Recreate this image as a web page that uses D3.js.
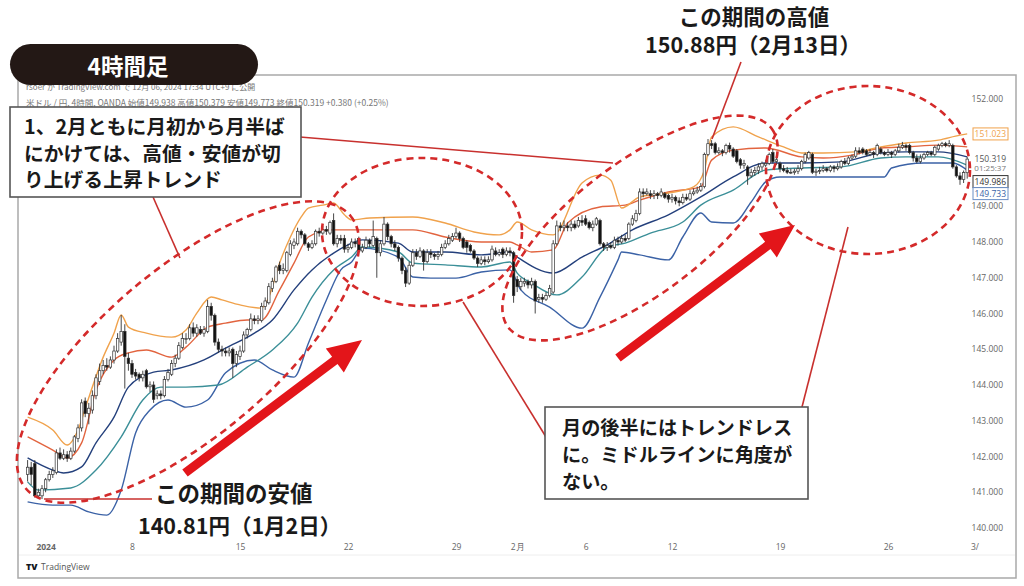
<!DOCTYPE html>
<html><head><meta charset="utf-8">
<script src="https://cdn.jsdelivr.net/npm/d3@7"></script>
<style>
html,body{margin:0;padding:0;background:#fff;}
svg{display:block;}
</style></head><body>
<svg id="chart" width="1024" height="586"></svg>
<script>
// ---- data: USD/JPY 4h candles (bar index 0..261) ----
const opens = [141.5,141.7,141.8,140.9,140.9,141.1,141.35,141.5,141.55,142.1,
141.95,142.05,141.95,142.15,142.5,142.8,143.55,143.2,143.3,143.7,
144.1,144.4,144.55,144.5,144.7,144.95,145.2,145.5,144.75,144.6,
144.35,144.3,144.2,144.4,143.95,144.0,143.7,143.75,143.7,144.15,
144.3,144.6,144.75,145.05,145.3,145.3,145.6,145.45,145.55,145.45,
145.5,146.2,145.95,145.2,145.0,144.95,144.9,145.0,144.6,144.8,
144.95,145.4,145.55,145.85,145.8,145.8,146.2,146.3,146.7,146.9,
147.35,147.2,147.2,147.65,147.9,147.95,148.3,148.2,147.95,147.85,
147.95,148.3,148.25,148.35,148.25,148.6,147.95,148.1,148.1,147.8,
147.85,148.0,148.1,147.75,147.85,148.05,147.9,148.1,147.7,147.95,
148.5,148.15,147.95,147.85,147.55,147.2,146.85,147.35,147.7,147.6,
147.75,147.45,147.7,147.65,147.6,147.65,147.85,147.95,148.05,148.15,
148.25,148.1,148.0,147.9,147.75,147.55,147.4,147.5,147.45,147.5,
147.75,147.65,147.8,147.65,147.75,147.7,146.95,146.75,146.85,146.9,
146.8,146.9,146.4,146.45,146.4,146.5,146.6,147.95,148.45,148.4,
148.45,148.4,148.5,148.45,148.6,148.65,148.55,148.4,148.5,148.6,
147.95,147.85,147.9,147.85,148.05,148.0,148.1,148.1,148.5,148.6,
148.8,149.4,149.35,149.35,149.3,149.35,149.3,149.35,149.3,149.2,
149.25,149.15,149.1,149.25,149.2,149.35,149.4,149.45,149.55,150.45,
150.75,150.75,150.5,150.55,150.5,150.7,150.6,150.55,150.3,150.15,
150.1,149.85,149.95,150.0,150.1,150.15,150.2,150.5,150.25,150.2,
150.05,150.0,149.95,149.95,149.98,150.05,150.25,150.35,150.45,149.95,
149.98,150.0,150.05,150.0,150.1,150.05,150.1,150.25,150.2,150.35,
150.4,150.55,150.6,150.55,150.45,150.5,150.45,150.6,150.5,150.45,
150.5,150.45,150.55,150.65,150.7,150.7,150.5,150.35,150.25,150.35,
150.45,150.5,150.45,150.6,150.7,150.75,150.7,150.7,150.1,149.85,
149.75,149.938];
const highs = [141.9,141.85,141.9,141.1,141.2,141.4,141.6,141.7,142.2,142.25,
142.2,142.15,142.25,142.6,142.9,143.6,143.65,143.5,143.85,144.3,
144.6,144.7,144.75,144.8,145.1,145.45,145.96,145.7,144.9,144.7,
144.45,144.35,144.4,144.45,144.1,144.1,143.85,143.85,144.25,144.45,
144.7,144.85,145.2,145.45,145.45,145.7,145.75,145.7,145.65,145.65,
146.38,146.3,146.0,145.3,145.1,145.05,145.05,145.05,144.95,145.1,
145.5,145.6,146.0,145.95,145.95,146.3,146.45,146.85,147.0,147.35,
147.45,147.4,147.75,148.05,148.1,148.4,148.35,148.25,148.0,148.05,
148.35,148.4,148.45,148.45,148.6,148.8,148.2,148.2,148.2,147.95,
148.1,148.1,148.15,147.95,148.15,148.1,148.6,148.15,148.05,148.7,
148.55,148.2,148.05,147.9,147.6,147.3,147.45,147.8,147.8,147.85,
147.8,147.8,147.8,147.7,147.75,147.95,148.05,148.2,148.25,148.4,
148.3,148.15,148.05,147.95,147.8,147.6,147.6,147.6,147.6,147.9,
147.85,147.8,147.85,147.85,147.85,147.75,147.05,147.0,147.0,146.95,
147.0,146.95,146.55,146.55,146.6,146.8,148.05,148.6,148.55,148.6,
148.55,148.6,148.6,148.7,148.75,148.75,148.6,148.6,148.7,148.65,
148.0,148.0,148.0,148.15,148.15,148.2,148.2,148.55,148.75,148.9,
149.5,149.5,149.5,149.45,149.45,149.4,149.5,149.4,149.35,149.35,
149.3,149.25,149.35,149.35,149.45,149.5,149.55,149.65,150.5,150.88,
150.85,150.8,150.65,150.6,150.75,150.78,150.65,150.6,150.35,150.3,
150.15,150.05,150.1,150.2,150.25,150.3,150.5,150.6,150.4,150.25,
150.15,150.1,150.05,150.05,150.15,150.3,150.5,150.55,150.5,150.05,
150.1,150.15,150.1,150.15,150.15,150.2,150.3,150.35,150.4,150.45,
150.65,150.65,150.65,150.6,150.6,150.55,150.75,150.65,150.55,150.6,
150.55,150.6,150.75,150.8,150.75,150.75,150.55,150.45,150.45,150.5,
150.55,150.55,150.7,150.75,150.8,150.8,150.85,150.75,150.15,149.95,
150.0,150.379];
const lows = [141.3,141.2,140.85,140.81,140.81,141.0,141.3,141.4,141.5,141.9,
141.9,141.85,141.9,142.1,142.4,142.7,143.1,142.9,143.2,143.6,
144.0,144.3,144.4,144.45,144.6,144.9,145.1,143.9,144.4,144.2,
144.15,144.1,144.1,143.9,143.8,143.5,143.6,143.6,143.65,144.1,
144.25,144.5,144.7,145.0,145.15,145.25,145.35,145.35,145.4,145.35,
145.45,145.8,145.1,144.9,144.8,144.8,144.8,144.2,144.5,144.7,
144.9,145.3,145.5,145.7,145.7,145.75,146.1,146.25,146.6,146.85,
147.1,147.1,147.15,147.6,147.8,147.9,148.1,147.9,147.75,147.8,
147.9,148.15,148.2,148.2,148.2,147.9,147.85,147.95,147.7,147.7,
147.8,147.85,147.7,147.7,147.8,147.85,147.85,147.0,147.6,147.9,
148.05,147.85,147.75,147.45,147.1,146.74,146.8,147.3,147.5,147.55,
147.2,147.4,147.55,147.5,147.5,147.6,147.8,147.9,148.0,148.1,
148.0,147.8,147.7,147.7,147.5,147.3,147.35,147.35,147.4,147.45,
147.6,147.6,147.55,147.6,147.6,146.3,146.6,146.65,146.75,146.7,
146.7,146.0,146.3,146.3,146.35,146.45,146.55,147.9,148.3,148.3,
148.3,148.3,148.35,148.4,148.45,148.45,148.35,148.3,148.45,147.9,
147.75,147.75,147.8,147.8,147.9,147.95,148.0,148.05,148.45,148.55,
148.75,149.25,149.3,149.2,149.2,149.2,149.25,149.2,149.1,149.1,
149.05,149.0,149.05,149.15,149.15,149.3,149.35,149.4,149.5,150.4,
150.6,150.45,150.45,150.4,150.45,150.5,150.35,150.2,150.05,150.05,
149.6,149.8,149.85,149.9,150.0,150.1,150.15,150.2,150.15,149.95,
149.95,149.9,149.9,149.88,149.9,150.0,150.2,150.3,149.9,149.85,
149.9,149.95,149.95,149.95,149.95,150.0,150.05,150.15,150.15,150.3,
150.35,150.45,150.45,150.4,150.4,150.35,150.4,150.45,150.4,150.4,
150.35,150.4,150.5,150.6,150.55,150.45,150.25,150.2,150.2,150.3,
150.4,150.4,150.4,150.55,150.65,150.65,150.65,150.05,149.8,149.6,
149.65,149.773];
const closes = [141.7,141.5,140.9,141.0,141.1,141.35,141.5,141.6,142.1,141.95,
142.05,141.95,142.15,142.55,142.8,143.5,143.2,143.35,143.7,144.2,
144.4,144.55,144.5,144.7,144.95,145.3,145.5,144.8,144.6,144.3,
144.25,144.2,144.3,143.95,144.0,143.6,143.75,143.7,144.15,144.35,
144.6,144.75,145.1,145.3,145.3,145.6,145.45,145.6,145.45,145.55,
146.2,145.95,145.2,145.0,144.95,144.9,144.95,144.6,144.85,144.95,
145.4,145.55,145.85,145.8,145.85,146.2,146.35,146.75,146.9,147.3,
147.2,147.25,147.7,147.95,148.0,148.3,148.2,147.95,147.85,147.95,
148.3,148.25,148.35,148.3,148.55,147.95,148.1,148.05,147.8,147.85,
148.0,147.95,147.75,147.85,148.05,147.95,148.15,147.7,147.95,148.5,
148.15,147.95,147.85,147.55,147.2,146.85,147.35,147.7,147.6,147.75,
147.45,147.7,147.65,147.6,147.65,147.85,147.95,148.1,148.15,148.25,
148.1,147.85,147.85,147.75,147.55,147.4,147.5,147.45,147.5,147.8,
147.65,147.7,147.65,147.75,147.7,146.5,146.75,146.9,146.9,146.8,
146.9,146.35,146.45,146.4,146.5,146.7,147.95,148.45,148.4,148.45,
148.4,148.5,148.4,148.6,148.55,148.5,148.4,148.5,148.65,147.95,
147.85,147.9,147.85,148.05,148.0,148.1,148.05,148.5,148.65,148.8,
149.4,149.35,149.4,149.3,149.35,149.3,149.4,149.25,149.2,149.25,
149.15,149.1,149.25,149.2,149.35,149.4,149.45,149.55,150.45,150.75,
150.7,150.5,150.55,150.5,150.7,150.6,150.4,150.25,150.15,150.2,
149.85,149.95,150.0,150.1,150.2,150.2,150.45,150.25,150.3,150.05,
150.0,149.95,149.95,149.98,150.05,150.25,150.45,150.5,149.95,149.98,
150.0,150.05,150.0,150.1,150.05,150.1,150.25,150.2,150.35,150.4,
150.55,150.5,150.5,150.45,150.5,150.45,150.7,150.5,150.45,150.5,
150.45,150.55,150.65,150.7,150.65,150.5,150.35,150.25,150.35,150.45,
150.5,150.45,150.65,150.7,150.75,150.7,150.75,150.1,149.85,149.75,
149.94,150.319];

// Bollinger bands as [barIndex, price]
const bandUpper2 = [[0,143.10],[7,142.74],[11,142.32],[14,142.74],[16.5,143.50],[21,144.78],[24,145.45],[26,145.96],[28,145.62],[33,145.45],[40,145.34],[44,145.54],[47,146.01],[51,146.46],[54,146.38],[59,146.24],[65,146.15],[67,146.46],[70,147.41],[73,148.14],[76,148.70],[78,148.95],[82,149.03],[85,149.09],[88,148.76],[90,148.62],[95,148.67],[107,148.70],[116,148.53],[124,148.28],[131,148.20],[134,148.34],[136,148.56],[140,148.34],[146,148.20],[154,149.65],[159,149.87],[162,149.73],[165,148.95],[170,149.26],[178,149.37],[185,149.54],[188,150.01],[190,150.94],[196,151.22],[203,150.94],[210,150.66],[215,150.49],[221,150.49],[230,150.52],[237,150.66],[244,150.77],[253,150.85],[259,150.99],[261,151.023]];
const bandUpper1 = [[0,142.55],[7,142.18],[11,141.96],[15,142.38],[19,143.86],[24,144.70],[28,144.90],[33,144.98],[40,144.78],[44,145.06],[50,145.62],[55,145.73],[61,145.82],[65,145.82],[70,146.66],[74,147.41],[78,148.14],[84,148.34],[93,148.34],[107,148.34],[116,148.14],[126,148.00],[134,148.00],[136,147.92],[140,147.72],[146,147.78],[150,148.53],[159,148.98],[166,149.03],[170,149.17],[178,149.40],[187,149.54],[190,150.29],[196,150.57],[205,150.63],[215,150.38],[221,150.35],[229,150.43],[237,150.63],[244,150.66],[253,150.71],[261,150.66]];
const bandMiddle = [[0,141.96],[7,141.62],[10,141.54],[15,141.71],[19,142.38],[24,143.10],[28,143.94],[35,144.36],[40,144.42],[49,144.70],[55,145.03],[63,145.45],[68,145.82],[74,146.66],[79,147.22],[85,147.69],[89,147.92],[93,148.06],[103,147.97],[107,147.72],[116,147.72],[126,147.64],[134,147.72],[136,147.58],[146,147.13],[154,147.58],[161,147.92],[168,148.34],[178,148.76],[187,149.26],[196,149.82],[205,150.21],[215,150.21],[226,150.24],[237,150.49],[244,150.52],[253,150.52],[261,150.38]];
const bandLower1 = [[0,141.29],[3,141.06],[12,141.12],[19,141.62],[26,142.55],[32,143.58],[37,143.94],[44,143.94],[53,144.00],[61,144.50],[68,144.98],[75,145.73],[79,146.46],[85,147.22],[90,147.58],[93,147.86],[103,147.72],[107,147.41],[116,147.36],[126,147.30],[134,147.44],[136,147.13],[140,146.85],[147,146.52],[154,147.02],[161,147.86],[166,147.97],[173,148.25],[182,148.56],[187,149.03],[196,149.45],[205,150.01],[215,150.07],[226,150.10],[237,150.35],[244,150.38],[253,150.38],[261,150.15]];
const bandLower2 = [[0,140.73],[7,140.64],[12,140.64],[17,140.45],[22,140.36],[26,141.06],[30,142.66],[34,143.30],[39,143.58],[44,143.38],[50,143.58],[55,144.34],[63,144.70],[68,144.42],[74,144.22],[78,145.17],[83,146.38],[87,147.22],[90,147.44],[93,147.83],[103,147.58],[107,147.02],[112,146.99],[119,146.99],[126,147.16],[134,147.22],[137,146.66],[145,146.18],[154,145.59],[159,146.46],[164,147.50],[165,147.72],[170,147.64],[178,147.50],[182,148.14],[187,148.81],[190,148.56],[196,148.53],[201,149.12],[205,149.68],[209,149.82],[215,149.82],[226,149.82],[238,149.82],[240,150.07],[249,150.21],[257,150.21],[261,150.01]];

const xTickIdx = [5,29,59,89,119,136,155,179,209,239,263];
const xTickLabels = ["2024","8","15","22","29","2月","6","12","19","26","3/"];
const yTicks = [140,141,142,143,144,145,146,147,148,149,152];
const priceTags = [151.023,150.319,149.986,149.733];
const countdown = "01:25:37";

// ---- layout ----
const svg = d3.select("#chart");
const x = d3.scaleLinear().domain([0, 261]).range([27.6, 967.2]);
const y = d3.scaleLinear().domain([140, 152]).range([528, 99]);
const JP = "'Noto Sans CJK JP','Noto Sans',sans-serif";
const NUM = "'Open Sans',sans-serif";

// frame
svg.append("rect").attr("x",18).attr("y",75).attr("width",998).attr("height",503)
  .attr("fill","#fff").attr("stroke","#a9a9a9").attr("stroke-width",1.5);
svg.append("line").attr("x1",19).attr("x2",1015).attr("y1",555).attr("y2",555)
  .attr("stroke","#eeeeee").attr("stroke-width",1);

// header small text
svg.append("text").attr("x",26).attr("y",90).attr("font-family",JP).attr("font-size",8)
  .attr("fill","#777").text("rsoer が TradingView.com で 12月 06, 2024 17:34 UTC+9 に公開");
svg.append("text").attr("x",26).attr("y",106).attr("font-family",JP).attr("font-size",8.5)
  .attr("fill","#777").text("米ドル / 円, 4時間, OANDA  始値149.938  高値150.379  安値149.773  終値150.319  +0.380 (+0.25%)");

// y axis
const yAx = svg.append("g").attr("transform","translate(1006,0)")
  .call(d3.axisLeft(y).tickValues(yTicks).tickFormat(d3.format(".3f")).tickSize(0));
yAx.select(".domain").remove();
yAx.selectAll("text").attr("font-family",NUM).attr("font-size",8.5).attr("fill","#666").attr("text-anchor","end").attr("dx",0);

// x axis
const xAx = svg.append("g").attr("transform","translate(0,541)")
  .call(d3.axisBottom(x).tickValues(xTickIdx).tickFormat((d,k)=>xTickLabels[k]).tickSize(0));
xAx.select(".domain").remove();
xAx.selectAll("text").attr("font-family",NUM).attr("font-size",8.5).attr("fill","#666")
  .attr("font-weight",(d,k)=>k===0?"bold":"normal");

// bands
const bandDefs = [
  {d: bandLower2, c:"#3b62a6"},
  {d: bandLower1, c:"#3b8f98"},
  {d: bandMiddle, c:"#24407c"},
  {d: bandUpper1, c:"#e2643f"},
  {d: bandUpper2, c:"#f0a24c"}
];
const line = d3.line().x(d=>x(d[0])).y(d=>y(d[1])).curve(d3.curveMonotoneX);
const gB = svg.append("g");
bandDefs.forEach(b=>{
  gB.append("path").attr("d",line(b.d)).attr("fill","none").attr("stroke",b.c).attr("stroke-width",1.4);
});

// candles
const bars = opens.map((o,i)=>({i,o,h:highs[i],l:lows[i],c:closes[i]}));
const gC = svg.append("g");
gC.selectAll("line.w").data(bars).join("line").attr("class","w")
  .attr("x1",d=>x(d.i)).attr("x2",d=>x(d.i)).attr("y1",d=>y(d.h)).attr("y2",d=>y(d.l))
  .attr("stroke","#333").attr("stroke-width",0.9);
gC.selectAll("rect.b").data(bars).join("rect").attr("class","b")
  .attr("x",d=>x(d.i)-1.25).attr("width",2.5)
  .attr("y",d=>y(Math.max(d.o,d.c))).attr("height",d=>Math.max(0.8,Math.abs(y(d.o)-y(d.c))))
  .attr("fill",d=>d.c>=d.o?"#ffffff":"#111").attr("stroke","#333").attr("stroke-width",0.7);

// price tags on the right
function tag(val, yy, color, border){
  if(border){
    svg.append("rect").attr("x",973).attr("y",yy-6).attr("width",35).attr("height",12)
      .attr("fill","#fff").attr("stroke",border).attr("stroke-width",1);
  }
  svg.append("text").attr("x",1006).attr("y",yy+3).attr("text-anchor","end")
    .attr("font-family",NUM).attr("font-size",8.5).attr("fill",color).text(d3.format(".3f")(val));
}
tag(priceTags[0], y(priceTags[0]), "#f0a24c", "#f0a24c");
const yLast = y(priceTags[1]);
tag(priceTags[1], yLast, "#555", null);
svg.append("text").attr("x",1006).attr("y",yLast+12).attr("text-anchor","end")
  .attr("font-family",NUM).attr("font-size",8).attr("fill","#777").text(countdown);
tag(priceTags[2], yLast+22.5, "#333", "#333");
tag(priceTags[3], yLast+34.5, "#3b62a6", "#6b8fc6");

// ---- annotations ----
const RED = "#d42a2a";
const gA = svg.append("g");
function ell(cx,cy,rx,ry,rot){
  gA.append("ellipse").attr("cx",0).attr("cy",0).attr("rx",rx).attr("ry",ry)
    .attr("transform",`translate(${cx},${cy}) rotate(${rot})`)
    .attr("fill","none").attr("stroke",RED).attr("stroke-width",2.6).attr("stroke-dasharray","7,5");
}
ell(188,352,212,84,-40);
ell(422,232,100,74,0);
ell(640,228,165,66,-37);
ell(868,170,102,84,0);

function seg(x1,y1,x2,y2){
  gA.append("line").attr("x1",x1).attr("y1",y1).attr("x2",x2).attr("y2",y2)
    .attr("stroke","#c8302e").attr("stroke-width",1.6);
}
seg(300,137,613,163);
seg(153,197,180,258);
seg(463,302,546,437);
seg(802,407,848,227);
seg(x(4)+2, y(140.81), 152, y(140.81));
seg(741,62, x(189)+4, y(150.88));

function arrow(x1,y1,x2,y2){
  const dx=x2-x1, dy=y2-y1, L=Math.hypot(dx,dy), ux=dx/L, uy=dy/L, px=-uy, py=ux;
  const sw=4.5, hl=34, hw=15;
  const bx=x2-ux*hl, by=y2-uy*hl;
  const pts=[[x1+px*sw,y1+py*sw],[bx+px*sw,by+py*sw],[bx+px*hw,by+py*hw],[x2,y2],
    [bx-px*hw,by-py*hw],[bx-px*sw,by-py*sw],[x1-px*sw,y1-py*sw]];
  gA.append("polygon").attr("points",pts.map(p=>p.join(",")).join(" ")).attr("fill","#e3151a");
}
arrow(185,473,362,340);
arrow(618,358,795,225);

// callout boxes
function box(bx,by,bw,bh,lines,fs,lh,tx,ty){
  gA.append("rect").attr("x",bx).attr("y",by).attr("width",bw).attr("height",bh)
    .attr("fill","#fff").attr("stroke","#555").attr("stroke-width",1.6);
  lines.forEach((t,k)=>{
    gA.append("text").attr("x",tx).attr("y",ty+k*lh).attr("font-family",JP).attr("font-weight",700)
      .attr("font-size",fs).attr("fill","#1a1a1a").text(t);
  });
}
box(10,107,291,90,["1、2月ともに月初から月半ば","にかけては、高値・安値が切","り上げる上昇トレンド"],19.8,26.5,24,134);
box(545,407,263,92,["月の後半にはトレンドレス","に。ミドルラインに角度が","ない。"],19.2,27,562,435);

// low / high labels
function lbl(t,xx,yy,fs,anchor){
  gA.append("text").attr("x",xx).attr("y",yy).attr("font-family",JP).attr("font-weight",700)
    .attr("font-size",fs).attr("fill","#1a1a1a").attr("text-anchor",anchor||"start").text(t);
}
lbl("この期間の安値",155,502,22.5);
lbl("140.81円（1月2日）",138,534,21.5);
lbl("この期間の高値",754,25,21.5,"middle");
lbl("150.88円（2月13日）",753,53,21.5,"middle");

// header pill
svg.append("rect").attr("x",10).attr("y",44).attr("width",248).attr("height",41).attr("rx",20.5)
  .attr("fill","#231815");
svg.append("text").attr("x",128).attr("y",75).attr("text-anchor","middle").attr("font-family",JP)
  .attr("font-weight",700).attr("font-size",22.5).attr("fill","#fff").text("4時間足");

// TradingView logo
svg.append("text").attr("x",26).attr("y",570).attr("font-family",NUM).attr("font-weight",800)
  .attr("font-size",9).attr("fill","#131722").text("TV");
svg.append("text").attr("x",41).attr("y",570).attr("font-family",NUM)
  .attr("font-size",8.5).attr("fill","#555").text("TradingView");
</script>
</body></html>
